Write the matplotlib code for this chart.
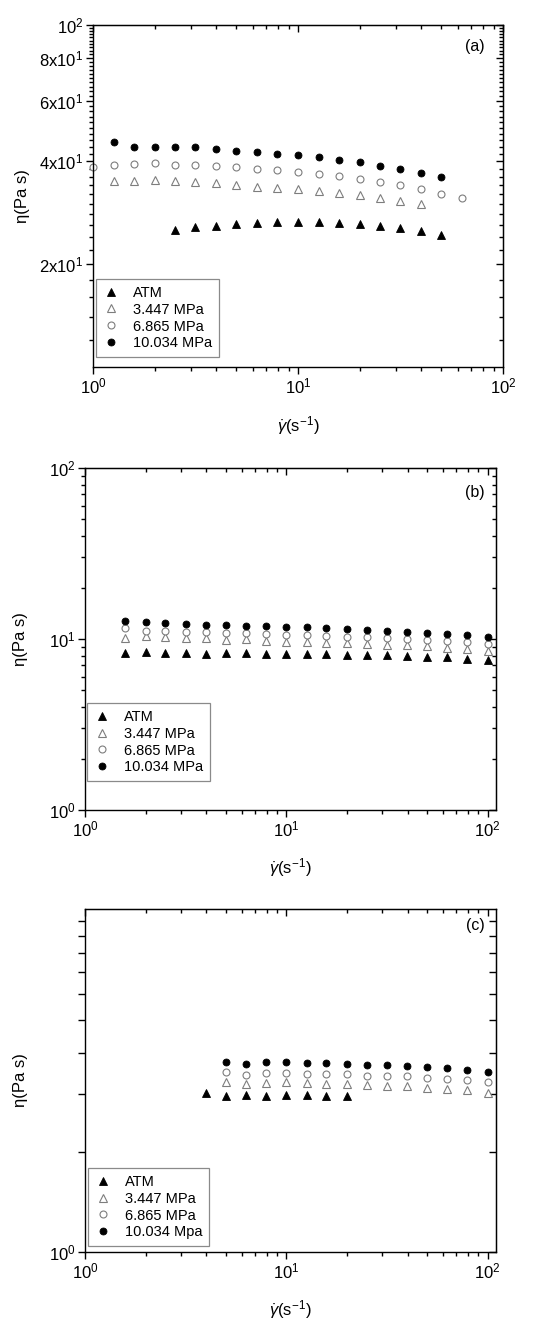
import numpy as np
import matplotlib
matplotlib.use('Agg')
import matplotlib.pyplot as plt
from matplotlib.ticker import FixedLocator, FixedFormatter, NullFormatter

plt.rcParams['font.family'] = ['Liberation Sans', 'DejaVu Sans']
plt.rcParams['mathtext.fontset'] = 'custom'
plt.rcParams['mathtext.rm'] = 'Liberation Sans'
plt.rcParams['mathtext.it'] = 'Liberation Sans:italic'
plt.rcParams['mathtext.bf'] = 'Liberation Sans:bold'

LABELS   = ['ATM', '3.447 MPa', '6.865 MPa', '10.034 MPa']
LABELS_C = ['ATM', '3.447 MPa', '6.865 MPa', '10.034 Mpa']

# ── panel (a) ────────────────────────────────────────────────────────────────
a_x_atm   = [2.51, 3.16, 3.98, 5.01, 6.31, 7.94, 10.0, 12.6, 15.8, 20.0, 25.1, 31.6, 39.8, 50.1]
a_y_atm   = [25.2, 25.6, 25.9, 26.2, 26.4, 26.5, 26.6, 26.5, 26.4, 26.2, 25.8, 25.5, 25.0, 24.4]
a_x_3447  = [1.26, 1.58, 2.0, 2.51, 3.16, 3.98, 5.01, 6.31, 7.94, 10.0, 12.6, 15.8, 20.0, 25.1,
             31.6, 39.8]
a_y_3447  = [35.0, 35.1, 35.2, 35.0, 34.7, 34.4, 34.0, 33.7, 33.4, 33.1, 32.7, 32.3, 31.8, 31.2,
             30.6, 29.9]
a_x_6865  = [1.0, 1.26, 1.58, 2.0, 2.51, 3.16, 3.98, 5.01, 6.31, 7.94, 10.0, 12.6, 15.8, 20.0,
             25.1, 31.6, 39.8, 50.1, 63.1]
a_y_6865  = [38.5, 38.9, 39.1, 39.4, 39.0, 38.9, 38.8, 38.4, 38.0, 37.6, 37.2, 36.7, 36.2, 35.5,
             34.8, 34.0, 33.1, 32.1, 31.1]
a_x_10034 = [1.26, 1.58, 2.0, 2.51, 3.16, 3.98, 5.01, 6.31, 7.94, 10.0, 12.6, 15.8, 20.0, 25.1,
             31.6, 39.8, 50.1]
a_y_10034 = [45.6, 44.1, 44.1, 44.0, 43.9, 43.4, 42.9, 42.6, 42.0, 41.6, 41.1, 40.3, 39.7, 38.8,
             37.8, 36.9, 35.9]

# ── panel (b) ────────────────────────────────────────────────────────────────
b_x       = [1.58, 2.0, 2.51, 3.16, 3.98, 5.01, 6.31, 7.94, 10.0, 12.6, 15.8, 20.0, 25.1, 31.6,
             39.8, 50.1, 63.1, 79.4, 100.0]
b_y_atm   = [8.31, 8.36, 8.28, 8.25, 8.20, 8.28, 8.25, 8.20, 8.17, 8.17, 8.14, 8.10, 8.06, 8.03,
             7.95, 7.88, 7.82, 7.67, 7.54]
b_y_3447  = [10.09, 10.41, 10.31, 10.09, 10.18, 9.91, 9.96, 9.77, 9.64, 9.60, 9.51, 9.44, 9.35,
             9.26, 9.19, 9.10, 8.89, 8.70, 8.47]
b_y_6865  = [11.55, 11.09, 11.09, 11.03, 10.94, 10.89, 10.80, 10.70, 10.60, 10.51, 10.45, 10.31,
             10.23, 10.13, 10.0, 9.87, 9.73, 9.57, 9.35]
b_y_10034 = [12.8, 12.57, 12.45, 12.29, 12.12, 12.07, 11.96, 11.91, 11.80, 11.70, 11.59, 11.44,
             11.29, 11.18, 11.03, 10.84, 10.70, 10.55, 10.31]

# ── panel (c) ────────────────────────────────────────────────────────────────
c_x_atm   = [3.98, 5.01, 6.31, 7.94, 10.0, 12.6, 15.8, 20.0]
c_y_atm   = [3.01, 2.96, 2.98, 2.96, 2.97, 2.97, 2.96, 2.96]
c_x       = [5.01, 6.31, 7.94, 10.0, 12.6, 15.8, 20.0, 25.1, 31.6, 39.8, 50.1, 63.1, 79.4, 100.0]
c_y_3447  = [3.27, 3.21, 3.23, 3.25, 3.23, 3.21, 3.21, 3.20, 3.18, 3.18, 3.12, 3.10, 3.08, 3.03]
c_y_6865  = [3.49, 3.42, 3.46, 3.48, 3.45, 3.45, 3.44, 3.41, 3.41, 3.40, 3.36, 3.34, 3.31, 3.26]
c_y_10034 = [3.74, 3.70, 3.75, 3.75, 3.71, 3.73, 3.70, 3.68, 3.66, 3.64, 3.61, 3.59, 3.54, 3.49]

GRAY = '#7d7d7d'
MARKERS = [
    dict(marker='^', ms=5.2, mfc='black', mec='black', mew=0.6),
    dict(marker='^', ms=5.2, mfc='white', mec=GRAY, mew=0.8),
    dict(marker='o', ms=5.0, mfc='white', mec=GRAY, mew=0.8),
    dict(marker='o', ms=5.0, mfc='black', mec='black', mew=0.6),
]

X_MAJOR = [1, 10, 100]
X_MINOR = [2, 3, 4, 5, 6, 7, 8, 9, 20, 30, 40, 50, 60, 70, 80, 90]
X_LABELS = ['10$^0$', '10$^1$', '10$^2$']


def style_axes(ax, ymajor, yminor, ylabels):
    ax.set_xscale('log'); ax.set_yscale('log')
    for sp in ax.spines.values():
        sp.set_linewidth(1.0)
    ax.xaxis.set_major_locator(FixedLocator(X_MAJOR))
    ax.xaxis.set_minor_locator(FixedLocator(X_MINOR))
    ax.xaxis.set_major_formatter(FixedFormatter(X_LABELS))
    ax.xaxis.set_minor_formatter(NullFormatter())
    ax.yaxis.set_major_locator(FixedLocator(ymajor))
    ax.yaxis.set_minor_locator(FixedLocator(yminor))
    ax.yaxis.set_major_formatter(FixedFormatter(ylabels))
    ax.yaxis.set_minor_formatter(NullFormatter())
    ax.tick_params(which='both', direction='out', width=1.0, labelsize=12, pad=2)
    ax.tick_params(which='major', length=5)
    ax.tick_params(which='minor', length=3)

    # top / right ticks point inward, no labels
    top = ax.secondary_xaxis('top')
    top.xaxis.set_major_locator(FixedLocator(X_MAJOR))
    top.xaxis.set_minor_locator(FixedLocator(X_MINOR))
    top.xaxis.set_major_formatter(NullFormatter())
    top.xaxis.set_minor_formatter(NullFormatter())
    top.tick_params(which='both', direction='in', width=1.0)
    top.tick_params(which='major', length=5); top.tick_params(which='minor', length=3)
    right = ax.secondary_yaxis('right')
    right.yaxis.set_major_locator(FixedLocator(ymajor))
    right.yaxis.set_minor_locator(FixedLocator(yminor))
    right.yaxis.set_major_formatter(NullFormatter())
    right.yaxis.set_minor_formatter(NullFormatter())
    right.tick_params(which='both', direction='in', width=1.0)
    right.tick_params(which='major', length=5); right.tick_params(which='minor', length=3)

    ax.set_xlabel(r'$\dot{\gamma}$(s$^{-1}$)', fontsize=12)
    ax.set_ylabel('η(Pa s)', fontsize=12)
    ax.xaxis.label.set_va('center')
    ax.yaxis.label.set_va('center')


def add_legend(ax, labels, anchor):
    leg = ax.legend(labels, loc='lower left', bbox_to_anchor=anchor, borderaxespad=0,
                    fontsize=10.5, frameon=True, fancybox=False, framealpha=1,
                    edgecolor='#8a8a8a', handlelength=1.2, handletextpad=0.9,
                    labelspacing=0.2, borderpad=0.45, numpoints=1)
    leg.get_frame().set_linewidth(0.9)


fig = plt.figure(figsize=(5.5, 13.28), dpi=100)
fig.patch.set_facecolor('white')

# (a)
ax = fig.add_axes([93/550, (1328-367)/1328, 410/550, 342/1328])
for xs, ys, st in zip([a_x_atm, a_x_3447, a_x_6865, a_x_10034],
                      [a_y_atm, a_y_3447, a_y_6865, a_y_10034], MARKERS):
    ax.plot(xs, ys, ls='none', clip_on=False, **st)
ax.set_xlim(1, 100); ax.set_ylim(10, 100)
a_minor = [v for v in np.arange(12, 100, 2) if v not in (20, 40, 60, 80)]
style_axes(ax, [20, 40, 60, 80, 100], a_minor,
           ['2x10$^1$', '4x10$^1$', '6x10$^1$', '8x10$^1$', '10$^2$'])
ax.xaxis.set_label_coords(0.5, -0.17)
ax.yaxis.set_label_coords(-0.173, 0.5)
add_legend(ax, LABELS, (3/410, 10/342))
ax.text(0.956, 0.936, '(a)', transform=ax.transAxes, ha='right', va='center', fontsize=11.5)

# (b)
ax = fig.add_axes([85/550, (1328-810)/1328, 411/550, 342/1328])
for ys, st in zip([b_y_atm, b_y_3447, b_y_6865, b_y_10034], MARKERS):
    ax.plot(b_x, ys, ls='none', clip_on=False, **st)
ax.set_xlim(1, 110); ax.set_ylim(1, 100)
b_minor = [2, 3, 4, 5, 6, 7, 8, 9, 20, 30, 40, 50, 60, 70, 80, 90]
style_axes(ax, [1, 10, 100], b_minor, ['10$^0$', '10$^1$', '10$^2$'])
ax.xaxis.set_label_coords(0.5, -0.167)
ax.yaxis.set_label_coords(-0.158, 0.5)
add_legend(ax, LABELS, (2/411, 29/342))
ax.text(0.973, 0.927, '(b)', transform=ax.transAxes, ha='right', va='center', fontsize=11.5)

# (c)
ax = fig.add_axes([85/550, (1328-1252)/1328, 411/550, 343/1328])
ax.plot(c_x_atm, c_y_atm, ls='none', clip_on=False, **MARKERS[0])
for ys, st in zip([c_y_3447, c_y_6865, c_y_10034], MARKERS[1:]):
    ax.plot(c_x, ys, ls='none', clip_on=False, **st)
ax.set_xlim(1, 110); ax.set_ylim(1, 10.85)
style_axes(ax, [1, 2, 3, 4, 5, 6, 7, 8, 9, 10], [],
           ['10$^0$', '', '', '', '', '', '', '', '', ''])
ax.xaxis.set_label_coords(0.5, -0.169)
ax.yaxis.set_label_coords(-0.158, 0.5)
add_legend(ax, LABELS_C, (3/411, 6/343))
ax.text(0.973, 0.953, '(c)', transform=ax.transAxes, ha='right', va='center', fontsize=11.5)

fig.savefig('out.png', dpi=100, facecolor='white')
